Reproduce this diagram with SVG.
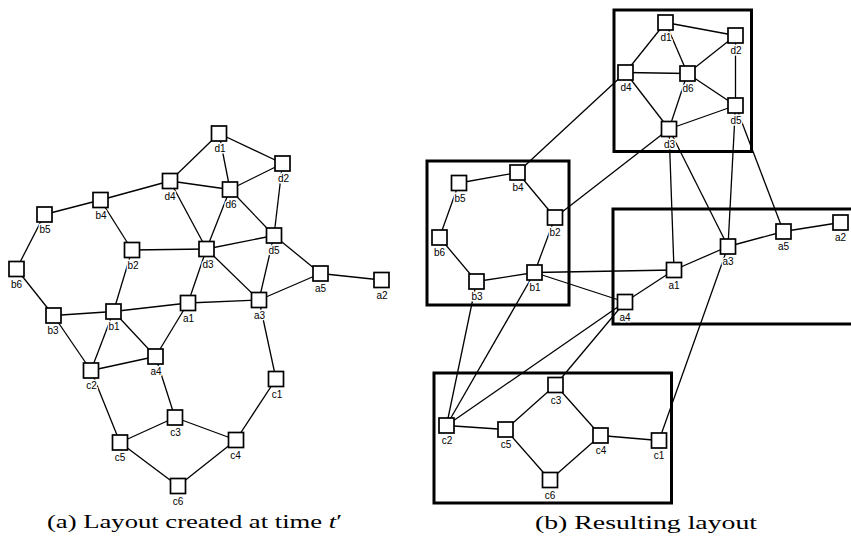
<svg xmlns="http://www.w3.org/2000/svg" width="851" height="545" viewBox="0 0 851 545">
  <style>
    .e { stroke: #000; stroke-width: 1.3; fill: none; }
    .n rect { fill: #fff; stroke: #000; stroke-width: 1.7; }
    .n text { font-family: "Liberation Sans", Arial, sans-serif; font-size: 10px; text-anchor: middle; fill: #000; stroke: #fff; stroke-width: 3px; paint-order: stroke; stroke-linejoin: round; }
    .box { fill: none; stroke: #000; stroke-width: 3; }
    .cap { font-family: "Liberation Serif", "Times New Roman", serif; font-size: 19px; fill: #000; }
  </style>
  <rect x="0" y="0" width="851" height="545" fill="#fff"/>

  <!-- cluster frames of the resulting layout -->
  <g id="clusters">
    <rect class="box" x="427" y="161" width="142" height="144"/>
    <rect class="box" x="614" y="10" width="137.5" height="141.5"/>
    <rect class="box" x="613" y="209" width="245" height="115"/>
    <rect class="box" x="434" y="373" width="237.5" height="130"/>
  </g>

  <!-- connectors -->
  <g id="edges" class="e">
    <!-- layout (a) -->
    <line x1="44.5" y1="214.5" x2="16.5" y2="269"/>
    <line x1="44.5" y1="214.5" x2="100.5" y2="200"/>
    <line x1="100.5" y1="200" x2="170" y2="181"/>
    <line x1="100.5" y1="200" x2="132" y2="250"/>
    <line x1="132" y1="250" x2="206.5" y2="249"/>
    <line x1="170" y1="181" x2="219" y2="133.5"/>
    <line x1="170" y1="181" x2="230" y2="189.5"/>
    <line x1="170" y1="181" x2="206.5" y2="249"/>
    <line x1="219" y1="133.5" x2="230" y2="189.5"/>
    <line x1="219" y1="133.5" x2="282.5" y2="163.5"/>
    <line x1="282.5" y1="163.5" x2="230" y2="189.5"/>
    <line x1="282.5" y1="163.5" x2="274" y2="235.5"/>
    <line x1="230" y1="189.5" x2="274" y2="235.5"/>
    <line x1="230" y1="189.5" x2="206.5" y2="249"/>
    <line x1="206.5" y1="249" x2="274" y2="235.5"/>
    <line x1="206.5" y1="249" x2="259" y2="300"/>
    <line x1="206.5" y1="249" x2="188" y2="303"/>
    <line x1="274" y1="235.5" x2="259" y2="300"/>
    <line x1="274" y1="235.5" x2="320.5" y2="273.5"/>
    <line x1="320.5" y1="273.5" x2="381.5" y2="280"/>
    <line x1="320.5" y1="273.5" x2="259" y2="300"/>
    <line x1="16.5" y1="269" x2="53.5" y2="315.5"/>
    <line x1="53.5" y1="315.5" x2="113.5" y2="311.5"/>
    <line x1="53.5" y1="315.5" x2="91" y2="370.5"/>
    <line x1="113.5" y1="311.5" x2="132" y2="250"/>
    <line x1="113.5" y1="311.5" x2="188" y2="303"/>
    <line x1="113.5" y1="311.5" x2="91" y2="370.5"/>
    <line x1="113.5" y1="311.5" x2="155.5" y2="356.5"/>
    <line x1="188" y1="303" x2="259" y2="300"/>
    <line x1="188" y1="303" x2="155.5" y2="356.5"/>
    <line x1="91" y1="370.5" x2="155.5" y2="356.5"/>
    <line x1="91" y1="370.5" x2="120" y2="442.5"/>
    <line x1="155.5" y1="356.5" x2="175" y2="417.5"/>
    <line x1="175" y1="417.5" x2="120" y2="442.5"/>
    <line x1="175" y1="417.5" x2="236" y2="440"/>
    <line x1="236" y1="440" x2="276" y2="379"/>
    <line x1="276" y1="379" x2="259" y2="300"/>
    <line x1="120" y1="442.5" x2="178" y2="486"/>
    <line x1="178" y1="486" x2="236" y2="440"/>
    <!-- layout (b) -->
    <line x1="459" y1="183" x2="439.5" y2="237.5"/>
    <line x1="459" y1="183" x2="517.5" y2="172.5"/>
    <line x1="517.5" y1="172.5" x2="625.5" y2="72.5"/>
    <line x1="517.5" y1="172.5" x2="555" y2="217.5"/>
    <line x1="555" y1="217.5" x2="669" y2="129"/>
    <line x1="625.5" y1="72.5" x2="665.5" y2="22.5"/>
    <line x1="625.5" y1="72.5" x2="687.5" y2="73.5"/>
    <line x1="625.5" y1="72.5" x2="669" y2="129"/>
    <line x1="665.5" y1="22.5" x2="687.5" y2="73.5"/>
    <line x1="665.5" y1="22.5" x2="735.5" y2="35.5"/>
    <line x1="735.5" y1="35.5" x2="687.5" y2="73.5"/>
    <line x1="735.5" y1="35.5" x2="735.5" y2="105.5"/>
    <line x1="687.5" y1="73.5" x2="735.5" y2="105.5"/>
    <line x1="687.5" y1="73.5" x2="669" y2="129"/>
    <line x1="669" y1="129" x2="735.5" y2="105.5"/>
    <line x1="669" y1="129" x2="728" y2="246.5"/>
    <line x1="669" y1="129" x2="674" y2="270"/>
    <line x1="735.5" y1="105.5" x2="728" y2="246.5"/>
    <line x1="735.5" y1="105.5" x2="783.5" y2="231.5"/>
    <line x1="783.5" y1="231.5" x2="840.5" y2="222.5"/>
    <line x1="783.5" y1="231.5" x2="728" y2="246.5"/>
    <line x1="439.5" y1="237.5" x2="476.5" y2="281.5"/>
    <line x1="476.5" y1="281.5" x2="534.5" y2="272.5"/>
    <line x1="476.5" y1="281.5" x2="446.5" y2="425.5"/>
    <line x1="534.5" y1="272.5" x2="555" y2="217.5"/>
    <line x1="534.5" y1="272.5" x2="674" y2="270"/>
    <line x1="534.5" y1="272.5" x2="446.5" y2="425.5"/>
    <line x1="534.5" y1="272.5" x2="625" y2="302"/>
    <line x1="674" y1="270" x2="728" y2="246.5"/>
    <line x1="674" y1="270" x2="625" y2="302"/>
    <line x1="446.5" y1="425.5" x2="625" y2="302"/>
    <line x1="446.5" y1="425.5" x2="505.5" y2="429.5"/>
    <line x1="625" y1="302" x2="555.5" y2="385"/>
    <line x1="555.5" y1="385" x2="505.5" y2="429.5"/>
    <line x1="555.5" y1="385" x2="600.5" y2="435.5"/>
    <line x1="600.5" y1="435.5" x2="659" y2="440.5"/>
    <line x1="659" y1="440.5" x2="728" y2="246.5"/>
    <line x1="505.5" y1="429.5" x2="550" y2="480"/>
    <line x1="550" y1="480" x2="600.5" y2="435.5"/>
  </g>

  <!-- nodes, layout (a) -->
  <g id="a-d1" class="n"><rect x="211.5" y="126" width="15" height="15"/><text x="220" y="152">d1</text></g>
  <g id="a-d2" class="n"><rect x="275" y="156" width="15" height="15"/><text x="283.5" y="182">d2</text></g>
  <g id="a-d4" class="n"><rect x="162.5" y="173.5" width="15" height="15"/><text x="170" y="199.5">d4</text></g>
  <g id="a-d6" class="n"><rect x="222.5" y="182" width="15" height="15"/><text x="231" y="208">d6</text></g>
  <g id="a-b4" class="n"><rect x="93" y="192.5" width="15" height="15"/><text x="101" y="218.5">b4</text></g>
  <g id="a-b5" class="n"><rect x="37" y="207" width="15" height="15"/><text x="45" y="233">b5</text></g>
  <g id="a-b6" class="n"><rect x="9" y="261.5" width="15" height="15"/><text x="16.5" y="287.5">b6</text></g>
  <g id="a-b2" class="n"><rect x="124.5" y="242.5" width="15" height="15"/><text x="133" y="268.5">b2</text></g>
  <g id="a-d3" class="n"><rect x="199" y="241.5" width="15" height="15"/><text x="208" y="267.5">d3</text></g>
  <g id="a-d5" class="n"><rect x="266.5" y="228" width="15" height="15"/><text x="274" y="254">d5</text></g>
  <g id="a-a5" class="n"><rect x="313" y="266" width="15" height="15"/><text x="320.5" y="292">a5</text></g>
  <g id="a-a2" class="n"><rect x="374" y="272.5" width="15" height="15"/><text x="382" y="298.5">a2</text></g>
  <g id="a-a3" class="n"><rect x="251.5" y="292.5" width="15" height="15"/><text x="259.5" y="318.5">a3</text></g>
  <g id="a-a1" class="n"><rect x="180.5" y="295.5" width="15" height="15"/><text x="188.5" y="321.5">a1</text></g>
  <g id="a-b3" class="n"><rect x="46" y="308" width="15" height="15"/><text x="53" y="334">b3</text></g>
  <g id="a-b1" class="n"><rect x="106" y="304" width="15" height="15"/><text x="114" y="330">b1</text></g>
  <g id="a-a4" class="n"><rect x="148" y="349" width="15" height="15"/><text x="156" y="375">a4</text></g>
  <g id="a-c2" class="n"><rect x="83.5" y="363" width="15" height="15"/><text x="91.5" y="389">c2</text></g>
  <g id="a-c1" class="n"><rect x="268.5" y="371.5" width="15" height="15"/><text x="277" y="397.5">c1</text></g>
  <g id="a-c3" class="n"><rect x="167.5" y="410" width="15" height="15"/><text x="175.5" y="436">c3</text></g>
  <g id="a-c5" class="n"><rect x="112.5" y="435" width="15" height="15"/><text x="120" y="461">c5</text></g>
  <g id="a-c4" class="n"><rect x="228.5" y="432.5" width="15" height="15"/><text x="235.5" y="458.5">c4</text></g>
  <g id="a-c6" class="n"><rect x="170.5" y="478.5" width="15" height="15"/><text x="178" y="504.5">c6</text></g>

  <!-- nodes, layout (b) -->
  <g id="b-b5" class="n"><rect x="451.5" y="175.5" width="15" height="15"/><text x="460" y="201.5">b5</text></g>
  <g id="b-b4" class="n"><rect x="510" y="165" width="15" height="15"/><text x="518" y="191">b4</text></g>
  <g id="b-b2" class="n"><rect x="547.5" y="210" width="15" height="15"/><text x="555" y="236">b2</text></g>
  <g id="b-b6" class="n"><rect x="432" y="230" width="15" height="15"/><text x="439.5" y="256">b6</text></g>
  <g id="b-b3" class="n"><rect x="469" y="274" width="15" height="15"/><text x="477" y="300">b3</text></g>
  <g id="b-b1" class="n"><rect x="527" y="265" width="15" height="15"/><text x="535" y="291">b1</text></g>
  <g id="b-d1" class="n"><rect x="658" y="15" width="15" height="15"/><text x="666" y="41">d1</text></g>
  <g id="b-d2" class="n"><rect x="728" y="28" width="15" height="15"/><text x="736" y="54">d2</text></g>
  <g id="b-d4" class="n"><rect x="618" y="65" width="15" height="15"/><text x="626" y="91">d4</text></g>
  <g id="b-d6" class="n"><rect x="680" y="66" width="15" height="15"/><text x="688" y="92">d6</text></g>
  <g id="b-d5" class="n"><rect x="728" y="98" width="15" height="15"/><text x="736" y="124">d5</text></g>
  <g id="b-d3" class="n"><rect x="661.5" y="121.5" width="15" height="15"/><text x="669.5" y="147.5">d3</text></g>
  <g id="b-a4" class="n"><rect x="617.5" y="294.5" width="15" height="15"/><text x="625" y="320.5">a4</text></g>
  <g id="b-a1" class="n"><rect x="666.5" y="262.5" width="15" height="15"/><text x="674" y="288.5">a1</text></g>
  <g id="b-a3" class="n"><rect x="720.5" y="239" width="15" height="15"/><text x="728" y="265">a3</text></g>
  <g id="b-a5" class="n"><rect x="776" y="224" width="15" height="15"/><text x="783.5" y="250">a5</text></g>
  <g id="b-a2" class="n"><rect x="833" y="215" width="15" height="15"/><text x="840.5" y="241">a2</text></g>
  <g id="b-c2" class="n"><rect x="439" y="418" width="15" height="15"/><text x="447" y="444">c2</text></g>
  <g id="b-c5" class="n"><rect x="498" y="422" width="15" height="15"/><text x="506" y="448">c5</text></g>
  <g id="b-c3" class="n"><rect x="548" y="377.5" width="15" height="15"/><text x="556" y="403.5">c3</text></g>
  <g id="b-c4" class="n"><rect x="593" y="428" width="15" height="15"/><text x="601" y="454">c4</text></g>
  <g id="b-c1" class="n"><rect x="651.5" y="433" width="15" height="15"/><text x="659" y="459">c1</text></g>
  <g id="b-c6" class="n"><rect x="542.5" y="472.5" width="15" height="15"/><text x="550" y="498.5">c6</text></g>

  <!-- captions -->
  <text class="cap" x="47" y="528" textLength="295" lengthAdjust="spacingAndGlyphs">(a) Layout created at time <tspan font-style="italic">t</tspan>′</text>
  <text class="cap" x="535" y="529" textLength="222" lengthAdjust="spacingAndGlyphs">(b) Resulting layout</text>
</svg>
